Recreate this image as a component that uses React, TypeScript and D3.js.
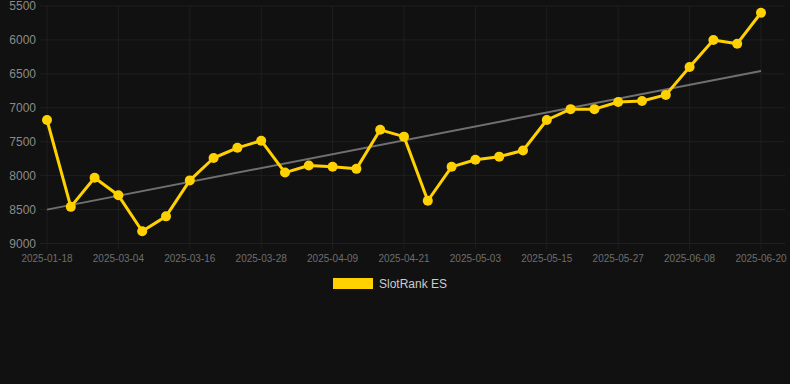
import React from "react";
import * as d3 from "d3";

const dates = [
  "2025-01-18", "2025-02-02", "2025-02-17", "2025-03-04", "2025-03-08", "2025-03-12",
  "2025-03-16", "2025-03-20", "2025-03-24", "2025-03-28", "2025-04-01", "2025-04-05",
  "2025-04-09", "2025-04-13", "2025-04-17", "2025-04-21", "2025-04-25", "2025-04-29",
  "2025-05-03", "2025-05-07", "2025-05-11", "2025-05-15", "2025-05-19", "2025-05-23",
  "2025-05-27", "2025-05-31", "2025-06-04", "2025-06-08", "2025-06-12", "2025-06-16",
  "2025-06-20",
];
const values = [
  7180, 8460, 8030, 8290, 8820, 8600, 8070, 7740, 7590, 7485,
  7955, 7850, 7870, 7900, 7325, 7425, 8370, 7870, 7765, 7720,
  7630, 7180, 7020, 7020, 6915, 6900, 6810, 6400, 6000, 6055, 5600,
];
const yTicks = [5500, 6000, 6500, 7000, 7500, 8000, 8500, 9000];
const seriesName = "SlotRank ES";

export default function App() {
  const W = 790, H = 384;
  const left = 40, right = 785;
  const x = d3.scalePoint<string>().domain(dates).range([47, 761]);
  const y = d3.scaleLinear().domain([5500, 9000]).range([6, 243.5]);
  const tickDates = dates.filter((_, i) => i % 3 === 0);

  // linear regression trend
  const n = values.length;
  const xs = values.map((_, i) => i);
  const mx = d3.mean(xs)!, my = d3.mean(values)!;
  let num = 0, den = 0;
  xs.forEach((xi, i) => { num += (xi - mx) * (values[i] - my); den += (xi - mx) ** 2; });
  const slope = num / den, icpt = my - slope * mx;
  const t0 = icpt, t1 = icpt + slope * (n - 1);

  const line = d3.line<number>().x((_, i) => x(dates[i])!).y((d) => y(d));
  const grid = "#1f1f1f";
  return (
    <svg width={W} height={H} style={{ position: "absolute", left: 0, top: 0, background: "#111111" }}
      fontFamily="Arial, 'Liberation Sans', sans-serif">
      <rect width={W} height={H} fill="#111111" />
      {yTicks.map((t) => (
        <g key={t}>
          <line x1={left} x2={right} y1={y(t)} y2={y(t)} stroke={grid} strokeWidth={1} />
          <text x={36} y={y(t)} dy="0.35em" textAnchor="end" fontSize={12} fill="#8a8a8a">{t}</text>
        </g>
      ))}
      {tickDates.map((d) => (
        <g key={d}>
          <line x1={x(d)} x2={x(d)} y1={6} y2={249} stroke={grid} strokeWidth={1} />
          <text x={x(d)} y={262} textAnchor="middle" fontSize={10} fill="#6e6e6e">{d}</text>
        </g>
      ))}
      <line x1={x(dates[0])} x2={x(dates[n - 1])} y1={y(t0)} y2={y(t1)} stroke="#707070" strokeWidth={2} />
      <path d={line(values)!} fill="none" stroke="#FFD100" strokeWidth={3} strokeLinejoin="round" />
      {values.map((v, i) => (
        <circle key={i} cx={x(dates[i])} cy={y(v)} r={5} fill="#FFD100" />
      ))}
      <rect x={333} y={278} width={40} height={11} fill="#FFD100" />
      <text x={379} y={288} fontSize={12} fill="#cccccc">{seriesName}</text>
    </svg>
  );
}
